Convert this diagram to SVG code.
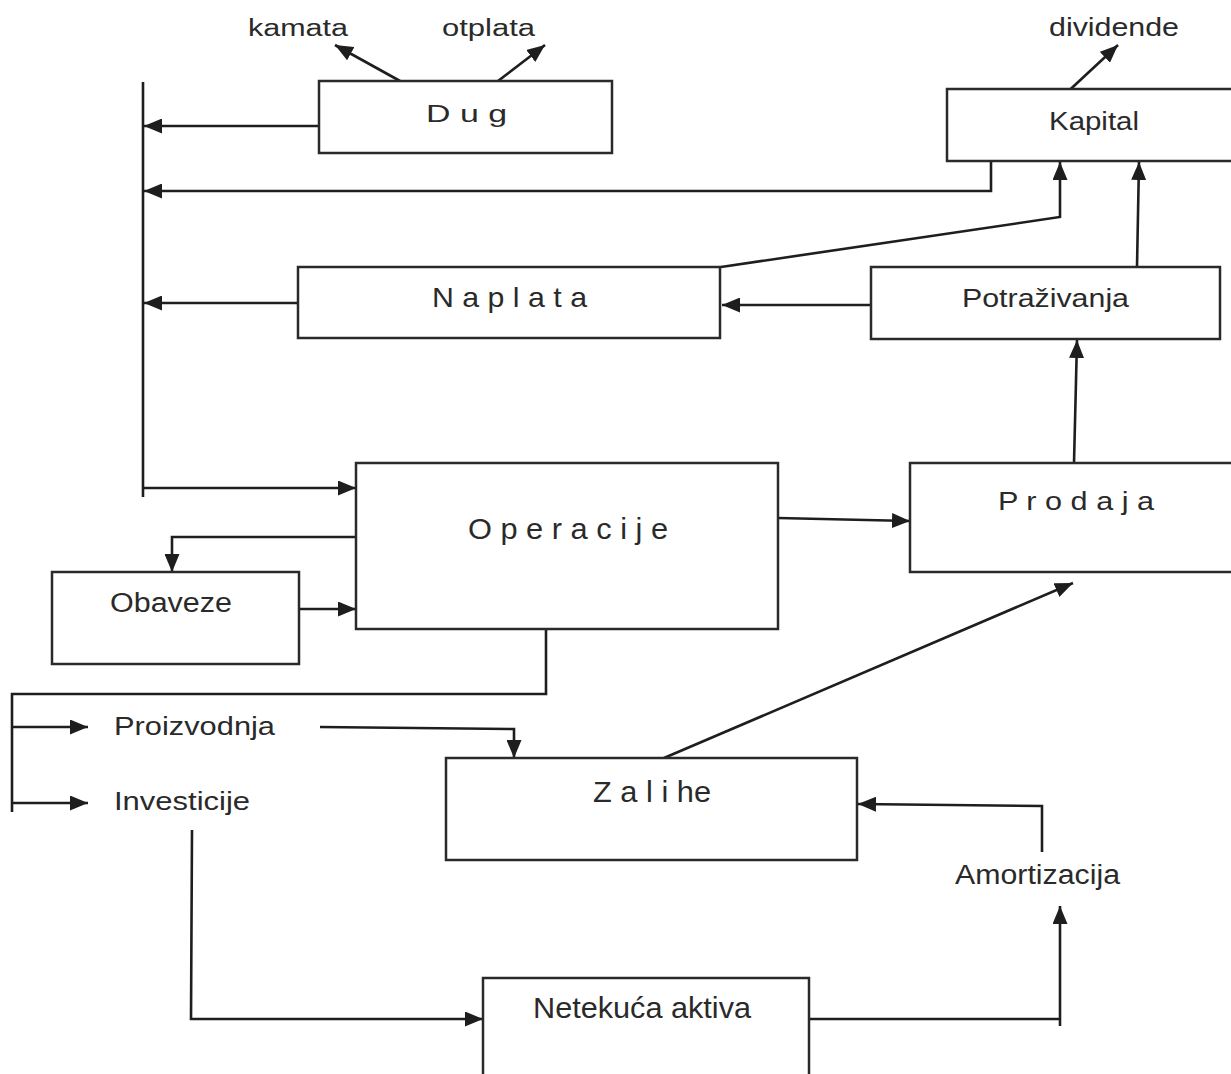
<svg xmlns="http://www.w3.org/2000/svg" width="1231" height="1074" viewBox="0 0 1231 1074">
<defs>
<marker id="ah" markerUnits="userSpaceOnUse" markerWidth="19" markerHeight="15" refX="18" refY="7.5" orient="auto">
<path d="M0,0 L18,7.5 L0,15 z" fill="#1e1e1e"/>
</marker>
<style>
.box{fill:#fff;stroke:#2a2a2a;stroke-width:2.5}
.ln{fill:none;stroke:#1e1e1e;stroke-width:2.6;stroke-linejoin:miter}
.ar{marker-end:url(#ah)}
text{font-family:"Liberation Sans",Arial,sans-serif;fill:#2a2a2a}
</style>
</defs>
<rect width="1231" height="1074" fill="#fff"/>
<g id="connectors">
<path class="ln" d="M143,82 L143,497"/>
<path class="ln ar" d="M400,81 L335,45"/>
<path class="ln ar" d="M498,81 L545,45"/>
<path class="ln ar" d="M1061,98 L1118,45"/>
<path class="ln ar" d="M319,126 L144,126"/>
<path class="ln ar" d="M991,161 L991,191 L144,191"/>
<path class="ln ar" d="M298,303 L144,303"/>
<path class="ln ar" d="M143,488 L356,488"/>
<path class="ln ar" d="M721,267 L1060,217 L1060,162"/>
<path class="ln ar" d="M1137,267 L1139,162"/>
<path class="ln ar" d="M871,305 L722,305"/>
<path class="ln ar" d="M1074,463 L1077,340"/>
<path class="ln ar" d="M356,537 L172,537 L172,572"/>
<path class="ln ar" d="M299,609 L356,609"/>
<path class="ln ar" d="M778,518 L910,521"/>
<path class="ln" d="M546,629 L546,694 L12,694 L12,812"/>
<path class="ln ar" d="M12,727 L88,727"/>
<path class="ln ar" d="M12,803 L88,803"/>
<path class="ln ar" d="M320,727 L514,729 L514,758"/>
<path class="ln ar" d="M664,758 L1073,583"/>
<path class="ln ar" d="M1042,852 L1042,806 L858,804"/>
<path class="ln ar" d="M192,830 L191,1019 L483,1019"/>
<path class="ln" d="M809,1019 L1060,1019"/>
<path class="ln ar" d="M1060,1026 L1060,906"/>
</g>
<g id="lbl-kamata"><text x="248" y="36" font-size="23" textLength="100" lengthAdjust="spacingAndGlyphs">kamata</text></g>
<g id="lbl-otplata"><text x="442" y="36" font-size="23" textLength="93" lengthAdjust="spacingAndGlyphs">otplata</text></g>
<g id="lbl-dividende"><text x="1049" y="36" font-size="25" textLength="130" lengthAdjust="spacingAndGlyphs">dividende</text></g>
<g id="node-dug"><rect class="box" x="319" y="81" width="293" height="72"/><text x="426" y="122" font-size="23" textLength="81" lengthAdjust="spacingAndGlyphs">D u g</text></g>
<g id="node-kapital"><rect class="box" x="947" y="89" width="300" height="72"/><text x="1049" y="130" font-size="26" textLength="90" lengthAdjust="spacingAndGlyphs">Kapital</text></g>
<g id="node-naplata"><rect class="box" x="298" y="267" width="422" height="71"/><text x="432" y="307" font-size="28" textLength="155" lengthAdjust="spacingAndGlyphs">N a p l a t a</text></g>
<g id="node-potrazivanja"><rect class="box" x="871" y="267" width="349" height="72"/><text x="962" y="307" font-size="26" textLength="167" lengthAdjust="spacingAndGlyphs">Potraživanja</text></g>
<g id="node-operacije"><rect class="box" x="356" y="463" width="422" height="166"/><text x="468" y="539" font-size="30" textLength="200" lengthAdjust="spacingAndGlyphs">O p e r a c i j e</text></g>
<g id="node-prodaja"><rect class="box" x="910" y="463" width="330" height="109"/><text x="998" y="510" font-size="26" textLength="156" lengthAdjust="spacingAndGlyphs">P r o d a j a</text></g>
<g id="node-obaveze"><rect class="box" x="52" y="572" width="247" height="92"/><text x="110" y="612" font-size="27" textLength="122" lengthAdjust="spacingAndGlyphs">Obaveze</text></g>
<g id="lbl-proizvodnja"><text x="114" y="735" font-size="26" textLength="161" lengthAdjust="spacingAndGlyphs">Proizvodnja</text></g>
<g id="lbl-investicije"><text x="114" y="810" font-size="26" textLength="136" lengthAdjust="spacingAndGlyphs">Investicije</text></g>
<g id="node-zalihe"><rect class="box" x="446" y="758" width="411" height="102"/><text x="593" y="802" font-size="29" textLength="118" lengthAdjust="spacingAndGlyphs">Z a l i he</text></g>
<g id="lbl-amortizacija"><text x="955" y="884" font-size="27" textLength="165" lengthAdjust="spacingAndGlyphs">Amortizacija</text></g>
<g id="node-netekuca"><rect class="box" x="483" y="978" width="326" height="110"/><text x="533" y="1018" font-size="30" textLength="218" lengthAdjust="spacingAndGlyphs">Netekuća aktiva</text></g>
</svg>
